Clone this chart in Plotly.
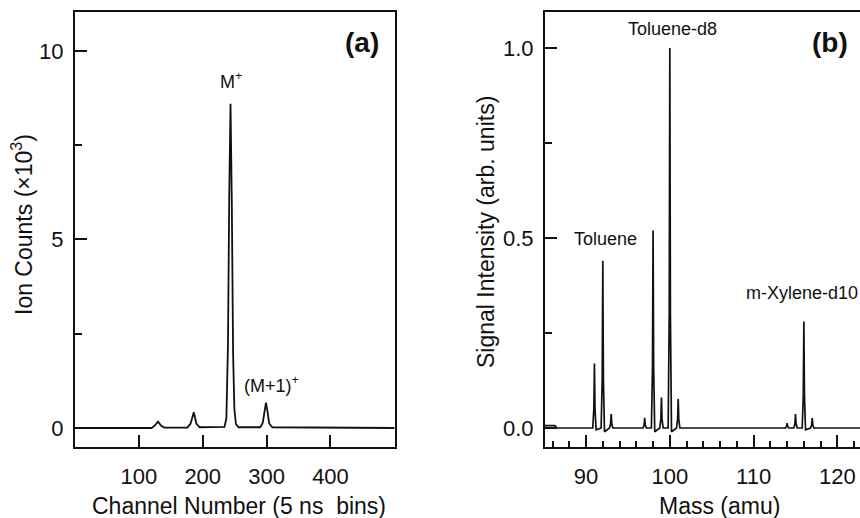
import plotly.graph_objects as go

# ---- Panel (a) data: channel number vs ion counts (x10^3) ----
channel = [0, 120, 125, 130, 135, 140, 176, 181, 186, 190, 195,
           234, 237, 239.5, 241.5, 243.5, 245.5, 247.5, 249.5, 252, 256,
           290, 294, 297, 299, 301, 304, 309, 500]
counts = [0.0, 0.0, 0.07, 0.17, 0.06, 0.01, 0.01, 0.12, 0.42, 0.12, 0.02,
          0.03, 0.25, 2.2, 6.2, 8.6, 6.0, 2.0, 0.5, 0.1, 0.02,
          0.02, 0.14, 0.5, 0.67, 0.48, 0.12, 0.02, 0.0]
a_xticks = [100, 200, 300, 400]
a_yticks = [0, 5, 10]
a_yticklabels = ["0", "5", "10"]

# ---- Panel (b) data: mass vs signal intensity ----
mass = [85.1, 86.3, 86.5,
        90.8, 90.93, 91.0, 91.07, 91.2,
        91.8, 91.93, 92.0, 92.07, 92.2,
        92.8, 92.93, 93.0, 93.07, 93.2,
        96.8, 96.93, 97.0, 97.07, 97.2,
        97.8, 97.93, 98.0, 98.07, 98.2,
        98.8, 98.93, 99.0, 99.07, 99.2,
        99.8, 99.93, 100.0, 100.07, 100.2,
        100.8, 100.93, 101.0, 101.07, 101.2,
        113.8, 113.93, 114.0, 114.07, 114.2,
        114.8, 114.93, 115.0, 115.07, 115.2,
        115.8, 115.93, 116.0, 116.07, 116.2,
        116.8, 116.93, 117.0, 117.07, 117.2,
        122.7]
intensity = [0.006, 0.006, 0.0,
             0.0, 0.05, 0.17, 0.05, -0.005,
             0.0, 0.13, 0.44, 0.13, -0.01,
             0.0, 0.011, 0.037, 0.011, 0.0,
             0.0, 0.008, 0.027, 0.008, 0.0,
             0.0, 0.16, 0.52, 0.16, -0.01,
             0.0, 0.024, 0.08, 0.024, 0.0,
             0.0, 0.3, 1.0, 0.3, -0.01,
             0.0, 0.023, 0.076, 0.023, 0.0,
             0.0, 0.004, 0.013, 0.004, 0.0,
             0.0, 0.011, 0.037, 0.011, 0.0,
             0.0, 0.085, 0.28, 0.085, -0.005,
             0.0, 0.008, 0.026, 0.008, 0.0,
             0.0]
b_xticks = [90, 100, 110, 120]
b_yticks = [0.0, 0.5, 1.0]
b_yticklabels = ["0.0", "0.5", "1.0"]

W, H = 860, 518
FONT = "Liberation Sans, Arial, Helvetica, sans-serif"
INK = "#111111"


def px(x):
    return x / W


def py(y):
    return 1 - y / H


fig = go.Figure()
fig.add_trace(go.Scatter(x=channel, y=counts, mode="lines",
                         line=dict(color=INK, width=1.8),
                         xaxis="x", yaxis="y", showlegend=False))
fig.add_trace(go.Scatter(x=mass, y=intensity, mode="lines",
                         line=dict(color=INK, width=1.7),
                         xaxis="x2", yaxis="y2", showlegend=False))

ydom = [py(447), py(12)]
common = dict(showline=True, linecolor=INK, linewidth=2, ticks="inside",
              tickcolor=INK, tickwidth=2, ticklen=12, showgrid=False,
              zeroline=False, tickfont=dict(family=FONT, size=22, color=INK))

fig.update_layout(
    width=W, height=H, margin=dict(l=0, r=0, t=0, b=0),
    paper_bgcolor="white", plot_bgcolor="white",
    xaxis=dict(domain=[px(75), px(395)], range=[0, 501], tickmode="array",
               tickvals=a_xticks, mirror=True, anchor="y",
               ticklabelstandoff=9, **common),
    yaxis=dict(domain=ydom, range=[-0.504, 11.03], tickmode="array",
               tickvals=a_yticks, ticktext=a_yticklabels, mirror=True,
               anchor="x", ticklabelstandoff=5,
               minor=dict(tickmode="linear", tick0=0, dtick=2.5, ticks="inside",
                          ticklen=7, tickwidth=2, tickcolor=INK),
               **common),
    xaxis2=dict(domain=[px(545), 1.0], range=[85.1, 122.7], tickmode="array",
                tickvals=b_xticks, mirror=True, anchor="y2",
                ticklabelstandoff=9,
                minor=dict(tickmode="linear", tick0=0, dtick=2, ticks="inside",
                           ticklen=6, tickwidth=2, tickcolor=INK),
                **common),
    yaxis2=dict(domain=ydom, range=[-0.05, 1.095], tickmode="array",
                tickvals=b_yticks, ticktext=b_yticklabels, mirror=False,
                anchor="x2", ticklabelstandoff=5,
                minor=dict(tickmode="linear", tick0=0, dtick=0.25, ticks="inside",
                           ticklen=7, tickwidth=2, tickcolor=INK),
                **common),
)

ann = [
    ("<b>(a)</b>", 362, 43, 28, 0),
    ("M<sup>+</sup>", 231, 80, 18, 0),
    ("(M+1)<sup>+</sup>", 271, 384, 18, 0),
    ("<b>(b)</b>", 830, 43, 28, 0),
    ("Toluene-d8", 672, 29, 18, 0),
    ("Toluene", 605, 239, 18, 0),
    ("m-Xylene-d10", 802, 293, 18, 0),
    ("Channel Number (5 ns\u00a0 bins)", 239, 506, 23, 0),
    ("Mass (amu)", 719, 506, 23, 0),
    ("Ion Counts (\u00d710<sup>3</sup>)", 22, 225, 23, -90),
    ("Signal Intensity (arb. units)", 486, 232, 23, -90),
]
for text, x, y, size, ang in ann:
    fig.add_annotation(text=text, x=px(x), y=py(y), xref="paper", yref="paper",
                       xanchor="center", yanchor="middle", showarrow=False,
                       textangle=ang, font=dict(family=FONT, size=size, color=INK))

fig.write_html("out.html", config={"displayModeBar": False},
               post_script="document.body.style.margin='0';"
                           "document.body.style.overflow='hidden';")
